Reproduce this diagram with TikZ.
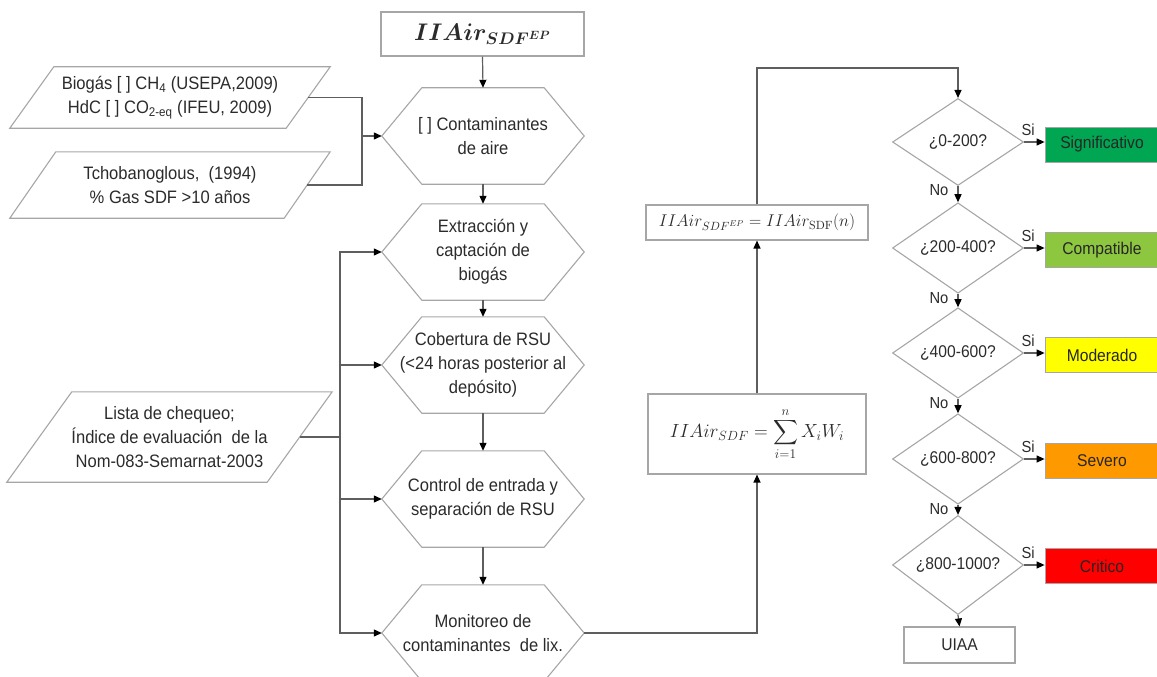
\RequirePackage{fix-cm}
\documentclass[tikz,border=0pt]{standalone}
\usepackage{amsmath}
\usepackage{exscale}
\usepackage[no-math]{fontspec}
\setmainfont{Liberation Sans}[FakeStretch=0.92]
\usetikzlibrary{shapes.geometric,arrows.meta,calc}
\definecolor{rimc}{HTML}{A6A6A6}
\definecolor{wirec}{HTML}{5E5E5E}
\definecolor{inkc}{HTML}{2B2B2B}
\definecolor{sigc}{HTML}{00A651}
\definecolor{compc}{HTML}{8DC63F}
\definecolor{modc}{HTML}{FFFF00}
\definecolor{sevc}{HTML}{FF9900}
\definecolor{critc}{HTML}{FF0000}

\begin{document}
\begin{tikzpicture}[x=1pt,y=-1pt,
  txt/.style={font=\fontsize{18}{24}\selectfont, text=inkc, align=center},
  hexn/.style={txt, inner sep=0pt, minimum width=202pt, minimum height=96pt},
  paran/.style={txt, inner sep=0pt, minimum width=320pt},
  rim/.style={draw=rimc, line width=1.1pt},
  plainbox/.style={rim, fill=white, inner sep=0pt, text=inkc},
  decision/.style={diamond, rim, inner sep=0pt, minimum width=131pt,
    minimum height=87pt, font=\fontsize{17}{20}\selectfont, text=inkc},
  verdict/.style={draw=rimc, line width=0.8pt, minimum width=114pt,
    minimum height=35pt, inner sep=0pt, font=\fontsize{17}{20}\selectfont,
    text=black!85},
  wire/.style={draw=wirec, line width=1.2pt},
  arr/.style={wire, -{Triangle[length=8pt,width=7pt,color=black]}},
  tag/.style={font=\fontsize{16}{18}\selectfont, text=inkc, inner sep=0pt}
]
\useasboundingbox (0,0) rectangle (1157,677);

% ---------- main column ----------
\node[plainbox, minimum width=203pt, minimum height=44pt,
      font=\fontsize{24}{28}\selectfont\boldmath] (head) at (482.5,34)
      {$IIAir_{SDF^{EP}}$};

\node[hexn] (h1) at (483,136) {[ ] Contaminantes\\de aire};
\node[hexn] (h2) at (483,252) {Extracción y\\captación de\\biogás};
\node[hexn] (h3) at (483,365) {Cobertura de RSU\\(<24 horas posterior al\\depósito)};
\node[hexn] (h4) at (483,499) {Control de entrada y\\separación de RSU};
\node[hexn] (h5) at (483,633) {Monitoreo de\\contaminantes\ \ de lix.};

\foreach \n in {h1,h2,h3,h4,h5}
  \draw[rim] ($(\n.north west)+(40,0)$) -- ($(\n.north east)+(-40,0)$)
    -- (\n.east) -- ($(\n.south east)+(-40,0)$) -- ($(\n.south west)+(40,0)$)
    -- (\n.west) -- cycle;

% ---------- input data ----------
\node[paran, minimum height=61pt] (p1) at (170,97.5)
  {Biogás [ ] CH\textsubscript{4} (USEPA,2009)\\HdC [ ] CO\textsubscript{2-eq} (IFEU, 2009)};
\node[paran, minimum height=66pt] (p2) at (170,185)
  {Tchobanoglous,\ \ (1994)\\\% Gas SDF >10 años};
\node[paran, minimum width=325pt, minimum height=90pt] (p3) at (169.5,437)
  {Lista de chequeo;\\Índice de evaluación\ \ de la\\Nom-083-Semarnat-2003};

\draw[rim] ($(p1.north west)+(44,0)$) -- (p1.north east)
  -- ($(p1.south east)+(-44,0)$) -- (p1.south west) -- cycle;
\draw[rim] ($(p2.north west)+(46,0)$) -- (p2.north east)
  -- ($(p2.south east)+(-46,0)$) -- (p2.south west) -- cycle;
\draw[rim] ($(p3.north west)+(65,0)$) -- (p3.north east)
  -- ($(p3.south east)+(-65,0)$) -- (p3.south west) -- cycle;

\coordinate (p1e) at ($(p1.east)+(-22,0)$);
\coordinate (p2e) at ($(p2.east)+(-23,0)$);
\coordinate (p3e) at ($(p3.east)+(-32.5,0)$);
\coordinate (j1) at (362,136);
\coordinate (j3) at (340,437);

% ---------- index formulas ----------
\node[plainbox, minimum width=222pt, minimum height=35pt,
      font=\fontsize{17}{20}\selectfont] (f1) at (757,222.5)
      {$IIAir_{SDF^{EP}} = IIAir_{\mathrm{SDF}}(n)$};
\node[plainbox, minimum width=218pt, minimum height=80pt,
      font=\fontsize{19}{22}\selectfont] (f2) at (757,434)
      {$\displaystyle IIAir_{SDF} = \sum_{i=1}^{n} X_i W_i$};

% ---------- classification ----------
\node[decision] (d1) at (958,142) {¿0-200?};
\node[decision] (d2) at (958,248) {¿200-400?};
\node[decision] (d3) at (958,353) {¿400-600?};
\node[decision] (d4) at (958,459) {¿600-800?};
\node[decision] (d5) at (958,565) {¿800-1000?};

\node[verdict, fill=sigc]  (s1) at (1102,144.5) {Significativo};
\node[verdict, fill=compc] (s2) at (1102,250) {Compatible};
\node[verdict, fill=modc]  (s3) at (1102,355) {Moderado};
\node[verdict, fill=sevc]  (s4) at (1102,461) {Severo};
\node[verdict, fill=critc] (s5) at (1102,566) {Critico};

\node[plainbox, minimum width=111pt, minimum height=36pt,
      font=\fontsize{17}{20}\selectfont] (u) at (959.5,645) {UIAA};

% ---------- connectors ----------
\draw[arr] (head.south) -- (h1.north);
\draw[arr] (h1.south) -- (h2.north);
\draw[arr] (h2.south) -- (h3.north);
\draw[arr] (h3.south) -- (h4.north);
\draw[arr] (h4.south) -- (h5.north);

\draw[wire] (p1e) -| (j1);
\draw[wire] (p2e) -| (j1);
\draw[arr] (j1) -- (h1.west);

\draw[wire] (p3e) -- (j3);
\draw[arr] (j3) |- (h2.west);
\draw[arr] (j3) |- (h3.west);
\draw[arr] (j3) |- (h4.west);
\draw[arr] (j3) |- (h5.west);

\draw[arr] (h5.east) -| (f2.south);
\draw[arr] (f2.north) -- (f1.south);
\draw[arr] (f1.north) |- ($(d1.north)+(0,-30)$) -- (d1.north);

\foreach \a/\b in {d1/s1,d2/s2,d3/s3,d4/s4,d5/s5}
  \draw[arr] (\a.east) -- (\b.west |- \a.east)
    node[tag, pos=0, anchor=south west, xshift=-3pt, yshift=6pt] {Si};

\foreach \a/\b in {d1/d2,d2/d3,d3/d4,d4/d5}
  \draw[arr] (\a.south) -- (\b.north)
    node[tag, pos=0, anchor=north east, xshift=-9pt, yshift=2pt] {No};

\draw[arr] (d5.south) -- (u.north);
\end{tikzpicture}
\end{document}
